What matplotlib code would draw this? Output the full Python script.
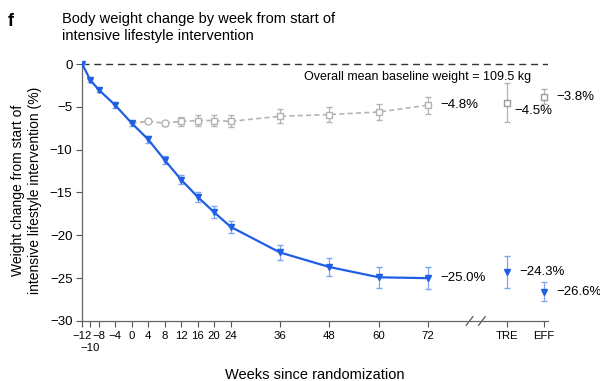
import matplotlib.pyplot as plt
import matplotlib.transforms as mtransforms

plt.rcParams['font.family'] = ['Liberation Sans', 'DejaVu Sans']

# data
weeks = [-12, -10, -8, -4, 0, 4, 8, 12, 16, 20, 24, 36, 48, 60, 72]
ils_mean = [0, -1.9, -3.0, -4.8, -6.9, -8.8, -11.2, -13.5, -15.5, -17.3, -19.0, -22.0, -23.7, -24.9, -25.0]
ils_err = [0, 0.2, 0.25, 0.3, 0.3, 0.4, 0.5, 0.5, 0.6, 0.7, 0.7, 0.9, 1.0, 1.2, 1.3]

ctrl_weeks = [0, 4, 8, 12, 16, 20, 24, 36, 48, 60, 72]
ctrl_mean = [-6.9, -6.7, -6.9, -6.7, -6.6, -6.6, -6.7, -6.1, -5.9, -5.6, -4.8]
ctrl_err = [0, 0.2, 0.3, 0.5, 0.6, 0.6, 0.7, 0.8, 0.9, 0.9, 1.0]

arm_names = ['TRE', 'EFF']
arm_pos = [91, 100]
arm_blue = [-24.3, -26.6]
arm_blue_err = [1.9, 1.1]
arm_gray = [-4.5, -3.8]
arm_gray_err = [2.3, 0.9]

blue = '#1f5fe6'
blue_light = '#7fa4ee'
gray = '#b3b3b3'

fig = plt.figure(figsize=(6, 3.81), dpi=100)
ax = fig.add_axes([0.137, 0.1575, 0.776, 0.688])

ax.axhline(0, color='#333333', lw=1, dashes=(5, 3.5), zorder=1)

# control arm (gray, dashed)
ax.errorbar(ctrl_weeks, ctrl_mean, yerr=ctrl_err, color=gray, ls=(0, (3, 2)), lw=1.2,
            ecolor=gray, elinewidth=0.9, capsize=2.5, marker='none', zorder=2)
ax.plot(ctrl_weeks[1:3], ctrl_mean[1:3], 'o', ms=5, mfc='white', mec=gray, mew=1, zorder=3)
ax.plot(ctrl_weeks[3:], ctrl_mean[3:], 's', ms=5, mfc='white', mec=gray, mew=1, zorder=3)
ax.errorbar(arm_pos, arm_gray, yerr=arm_gray_err, fmt='s', ms=5, mfc='white', mec='#999999',
            ecolor=gray, elinewidth=0.9, capsize=2.5, zorder=3)

# intensive lifestyle (blue)
ax.errorbar(weeks, ils_mean, yerr=ils_err, color=blue, lw=1.6, ecolor=blue_light,
            elinewidth=0.9, capsize=2.5, marker='v', ms=5, zorder=4)
ax.errorbar(arm_pos, arm_blue, yerr=arm_blue_err, fmt='v', color=blue, ms=5,
            ecolor=blue_light, elinewidth=0.9, capsize=2.5, zorder=4)

# value labels
fs = 9.5
ax.text(75, ctrl_mean[-1], '\u22124.8%', fontsize=fs, va='center')
ax.text(arm_pos[0] + 2, arm_gray[0] - 1.0, '\u22124.5%', fontsize=fs, va='center')
ax.text(arm_pos[1] + 3, arm_gray[1], '\u22123.8%', fontsize=fs, va='center')
ax.text(75, ils_mean[-1], '\u221225.0%', fontsize=fs, va='center')
ax.text(arm_pos[0] + 3, arm_blue[0], '\u221224.3%', fontsize=fs, va='center')
ax.text(arm_pos[1] + 3, arm_blue[1], '\u221226.6%', fontsize=fs, va='center')
ax.text(69.5, -1.5, 'Overall mean baseline weight = 109.5 kg', fontsize=9, ha='center', va='center')

ax.set_xlim(-12, 101)
ax.set_ylim(-30, 0.6)

xticks = weeks + arm_pos
xlabels = [str(w).replace('-', '\u2212') for w in weeks] + arm_names
xlabels[1] = ''
ax.set_xticks(xticks)
ax.set_xticklabels(xlabels, fontsize=8.2)
# the -10 label sits on a second row under the crowded ticks
trans = mtransforms.blended_transform_factory(ax.transData, ax.transAxes)
ax.text(-10, -0.085, '\u221210', fontsize=8.2, ha='center', va='top', transform=trans)

ax.set_yticks([0, -5, -10, -15, -20, -25, -30])
ax.set_yticklabels(['0', '\u22125', '\u221210', '\u221215', '\u221220', '\u221225', '\u221230'], fontsize=9.5)
ax.tick_params(axis='both', color='#555555', length=4, width=0.8, pad=3)

for s in ['top', 'right']:
    ax.spines[s].set_visible(False)
for s in ['left', 'bottom']:
    ax.spines[s].set_color('#666666')
    ax.spines[s].set_linewidth(0.9)
ax.spines['left'].set_bounds(-30, 0)

# axis break marks
for bx in [82, 85]:
    ax.plot([bx - 0.8, bx + 0.8], [-30.5, -29.5], color='#555555', lw=0.9, clip_on=False)

ax.set_xlabel('Weeks since randomization', fontsize=10.5, labelpad=20)
ax.set_ylabel('Weight change from start of\nintensive lifestyle intervention (%)', fontsize=10, labelpad=6)

fig.text(0.013, 0.965, 'f', fontsize=13, fontweight='bold', va='top')
fig.text(0.103, 0.968, 'Body weight change by week from start of\nintensive lifestyle intervention',
         fontsize=10.5, va='top', linespacing=1.3)

fig.savefig('out.png', dpi=100)
